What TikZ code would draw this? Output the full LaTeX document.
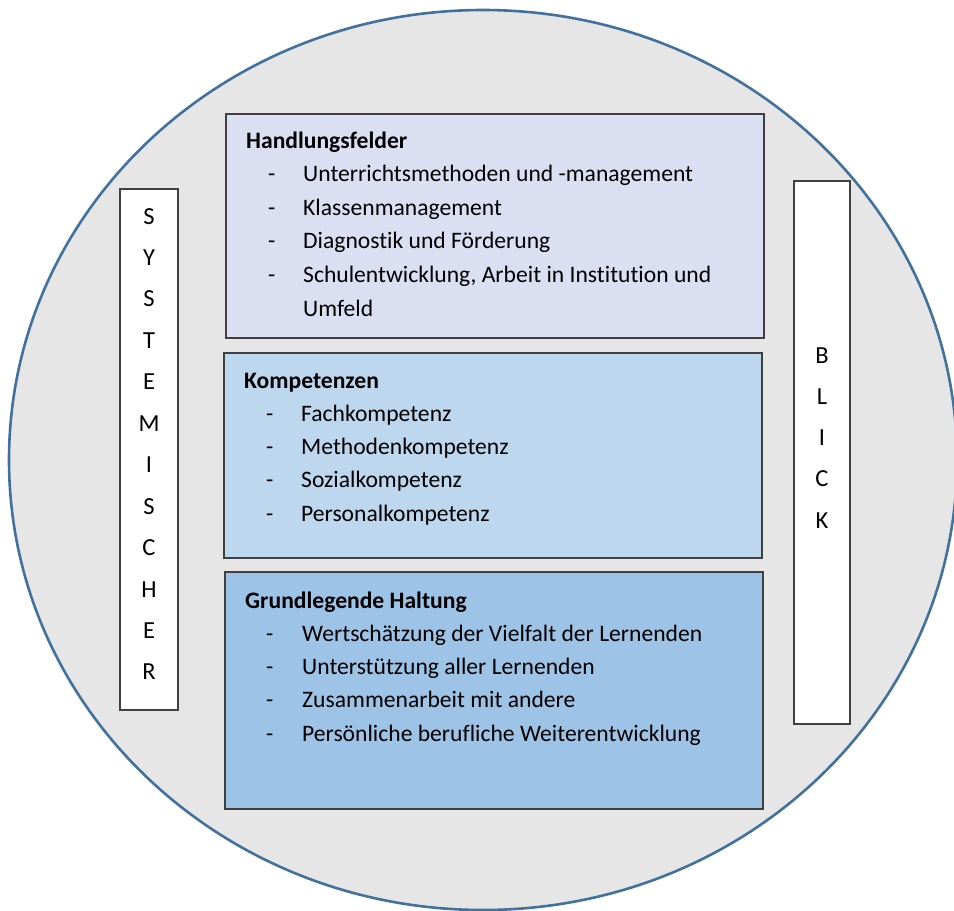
\documentclass[tikz,border=0pt]{standalone}
\usepackage{fontspec}
\setmainfont{Carlito}[RawFeature=-liga]
\definecolor{kreisrand}{HTML}{41719C}
\definecolor{kreisgrau}{HTML}{E6E6E6}
\definecolor{feld}{HTML}{DAE0F2}
\definecolor{kompetenz}{HTML}{BDD7EE}
\definecolor{haltung}{HTML}{9DC3E6}
\definecolor{rand}{HTML}{404040}
\tikzset{
  kasten/.style={draw=rand, line width=1.6pt, inner sep=0pt},
  txt/.style={anchor=base west, inner sep=0pt, font=\fontsize{23.6}{28}\selectfont},
  kopf/.style={txt, font=\fontsize{23.6}{28}\selectfont\bfseries},
  buchstabe/.style={anchor=base, inner sep=0pt, font=\fontsize{24.5}{28}\selectfont},
}
\begin{document}
\begin{tikzpicture}[x=1pt,y=-1pt]
\useasboundingbox (0,0) rectangle (954,911);
\clip (0,0) rectangle (954,911);
% grey disc behind everything
\draw [fill=kreisgrau, draw=kreisrand, line width=2.6pt] (483,460) ellipse (474pt and 450pt);
% the three stacked boxes
\node [kasten, fill=feld, minimum width=538pt, minimum height=224pt] (felder) at (495,226) {};
\node [kasten, fill=kompetenz, minimum width=538pt, minimum height=205pt] (kompetenzen) at (493,455.5) {};
\node [kasten, fill=haltung, minimum width=538pt, minimum height=237pt] (haltung) at (494,690.5) {};
% side bars
\node [kasten, fill=white, minimum width=58pt, minimum height=521pt] (links) at (149,449.5) {};
\node [kasten, fill=white, minimum width=56pt, minimum height=543pt] (rechts) at (822,452.5) {};

\node [kopf] (hf) at (246,148) {Handlungsfelder};
\foreach \t [count=\i] in {Unterrichtsmethoden und -management, Klassenmanagement, Diagnostik und Förderung, {Schulentwicklung, Arbeit in Institution und}} {
  \node [txt] (hf-s\i) at (268,148+33.5*\i) {-};
  \node [txt] (hf-\i) at (303,148+33.5*\i) {\t};
}
\node [txt] (hf-5) at (303,316) {Umfeld};

\node [kopf] (ko) at (244,388) {Kompetenzen};
\foreach \t [count=\i] in {Fachkompetenz, Methodenkompetenz, Sozialkompetenz, Personalkompetenz} {
  \node [txt] (ko-s\i) at (266,388+33.3*\i) {-};
  \node [txt] (ko-\i) at (301,388+33.3*\i) {\t};
}

\node [kopf] (gh) at (245,608) {Grundlegende Haltung};
\foreach \t [count=\i] in {Wertschätzung der Vielfalt der Lernenden, Unterstützung aller Lernenden, Zusammenarbeit mit andere, Persönliche berufliche Weiterentwicklung} {
  \node [txt] (gh-s\i) at (266,608+33.3*\i) {-};
  \node [txt] (gh-\i) at (302,608+33.3*\i) {\t};
}

% vertical lettering
\foreach \b [count=\i] in {S,Y,S,T,E,M,I,S,C,H,E,R}
  \node [buchstabe] (sys-\i) at (149,224+41.45*\i-41.45) {\b};
\foreach \b [count=\i] in {B,L,I,C,K}
  \node [buchstabe] (blick-\i) at (822,363+41.25*\i-41.25) {\b};
\end{tikzpicture}
\end{document}
